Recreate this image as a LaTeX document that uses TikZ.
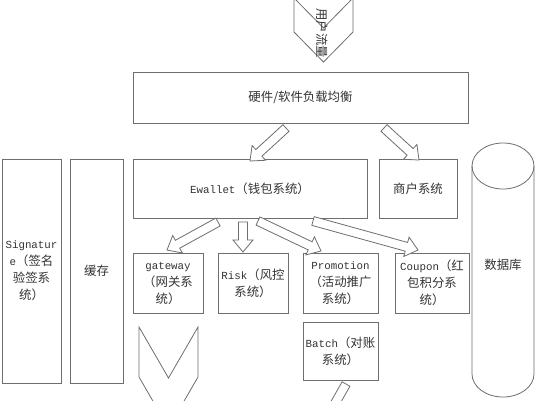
\documentclass[tikz,border=0pt]{standalone}
\usepackage{fontspec}
\setmainfont{Liberation Mono}[Scale=0.87]
\newfontfamily\cjk{Noto Sans CJK SC}
\usetikzlibrary{calc}
\newcommand\C[1]{{\cjk #1}}
\definecolor{linegray}{HTML}{6E6E6E}
\definecolor{txt}{HTML}{333333}
\tikzset{
  box/.style={draw=linegray, line width=0.9pt, inner sep=0pt, align=center,
    font=\fontsize{12.4}{17}\selectfont, text=txt},
  shapeline/.style={draw=linegray, line width=0.8pt, line join=miter},
  arr/.style={draw=linegray, line width=0.8pt, fill=white, line join=miter},
}
\newcommand\barrow[2]{%
  \coordinate (bh) at ($(#2)!12pt!(#1)$);
  \draw[arr] ($(#1)!4.5pt!90:(#2)$) -- ($(bh)!4.5pt!90:(#2)$) -- ($(bh)!10pt!90:(#2)$)
    -- (#2) -- ($(bh)!10pt!-90:(#2)$) -- ($(bh)!4.5pt!-90:(#2)$)
    -- ($(#1)!4.5pt!-90:(#2)$) -- cycle;
}
\begin{document}
\begin{tikzpicture}[x=1pt,y=-1pt]
\useasboundingbox (0,0) rectangle (535,400);
\clip (0,0) rectangle (535,400);
\fill[white] (0,0) rectangle (535,400);

% top chevron
\draw[shapeline] (294,-2) -- (323.5,28) -- (353,-2) -- (353,32) -- (323.5,62) -- (294,32) -- cycle;
\node[rotate=-90, font=\fontsize{12.4}{14}\selectfont\cjk, text=txt] (flow) at (322,33) {用户流量};

% boxes
\node[box, minimum width=335pt, minimum height=51pt] (lb) at (300.5,97.5) {\C{硬件/软件负载均衡}};
\node[box, minimum width=234pt, minimum height=59pt] (ew) at (250,188.5) {Ewallet\C{（钱包系统）}};
\node[box, minimum width=78pt, minimum height=59pt] (shop) at (418,188.5) {\C{商户系统}};
\node[box, minimum width=59pt, minimum height=224pt] (sig) at (31.5,271) {Signatur\\e\C{（签名}\\\C{验签系}\\\C{统）}};
\node[box, minimum width=53pt, minimum height=224pt] (cache) at (96.5,271) {\C{缓存}};
\node[box, minimum width=70pt, minimum height=60pt] (gw) at (168,283) {gateway\\\C{（网关系}\\\C{统）}};
\node[box, minimum width=70pt, minimum height=60pt] (risk) at (253,283) {Risk\C{（风控}\\\C{系统）}};
\node[box, minimum width=75pt, minimum height=60pt] (promo) at (340.5,283) {Promotion\\\C{（活动推广}\\\C{系统）}};
\node[box, minimum width=74pt, minimum height=60pt] (coupon) at (432,283) {Coupon\C{（红}\\\C{包积分系}\\\C{统）}};
\node[box, minimum width=75pt, minimum height=58pt] (batch) at (340.5,351) {Batch\C{（对账}\\\C{系统）}};

% database cylinder
\draw[shapeline] (503,166) ellipse [x radius=31, y radius=23];
\draw[shapeline] (472,166) -- (472,374) .. controls (472,386.7) and (485.9,397) .. (503,397)
  .. controls (520.1,397) and (534,386.7) .. (534,374) -- (534,166);
\node[font=\fontsize{12.4}{14}\selectfont\cjk, text=txt] (db) at (503,265) {数据库};

% bottom chevron
\draw[shapeline] (139,327) -- (168.5,378) -- (198,327) -- (198,377) -- (168.5,428) -- (139,377) -- cycle;

% block arrows
\coordinate (t1) at (286,128); \coordinate (h1) at (250,161);
\coordinate (t2) at (384,128); \coordinate (h2) at (419,160);
\coordinate (t3) at (218,222); \coordinate (h3) at (167,250);
\coordinate (t4) at (243,222); \coordinate (h4) at (243,252);
\coordinate (t5) at (258,221); \coordinate (h5) at (321,251);
\coordinate (t6) at (313,221); \coordinate (h6) at (418,250);
\coordinate (t7) at (346,384); \coordinate (h7) at (320,430);
\barrow{t1}{h1}
\barrow{t2}{h2}
\barrow{t3}{h3}
\barrow{t4}{h4}
\barrow{t5}{h5}
\barrow{t6}{h6}
\barrow{t7}{h7}
\end{tikzpicture}
\end{document}
